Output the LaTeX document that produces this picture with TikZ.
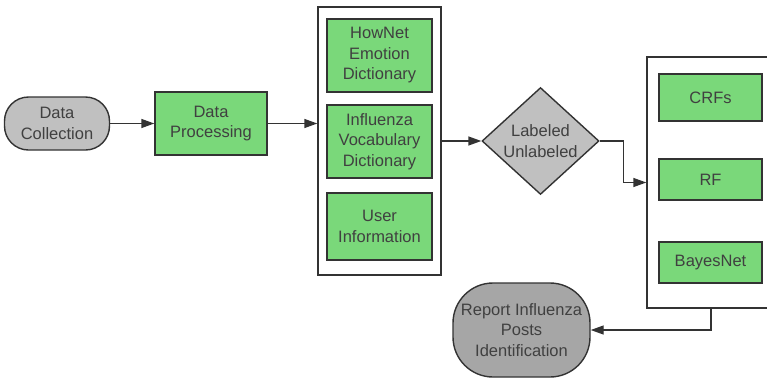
\documentclass[tikz,border=0pt]{standalone}
\usepackage{fontspec}
\setmainfont{Liberation Sans}
\usetikzlibrary{shapes.geometric}
\usetikzlibrary{arrows.meta}
\definecolor{boxgreen}{RGB}{122,216,122}
\definecolor{lightgray}{RGB}{192,192,192}
\definecolor{darkgray}{RGB}{166,166,166}
\definecolor{edgegray}{RGB}{51,51,51}
\definecolor{textgray}{RGB}{64,64,64}

\begin{document}
\begin{tikzpicture}
[x=1pt,y=-1pt,%
  every node/.style={draw=edgegray,line width=1.4pt,text=textgray,align=center,inner sep=0pt,%
    font=\fontsize{16.5}{20.5}\selectfont},%
  greenbox/.style={rectangle,fill=boxgreen,minimum width=103pt},%
  holder/.style={rectangle,fill=white},%
  pill/.style={rectangle,rounded corners=24pt},%
  link/.style={draw=edgegray,line width=1.4pt,-{Triangle[length=13pt,width=9pt]}}]
\useasboundingbox (0,0) rectangle (767,378);
\node[pill,fill=lightgray,minimum width=105pt,minimum height=53pt] (coll) at (57,123.5) {Data\\Collection};
\node[greenbox,minimum width=112pt,minimum height=63pt] (proc) at (211,123.5) {Data\\Processing};
\node[holder,minimum width=123pt,minimum height=268pt] (box1) at (379.5,141) {};
\node[greenbox,minimum width=105pt,minimum height=73pt] (hownet) at (379.5,55.5) {HowNet\\Emotion\\Dictionary};
\node[greenbox,minimum width=105pt,minimum height=73pt] (vocab) at (379.5,141.5) {Influenza\\Vocabulary\\Dictionary};
\node[greenbox,minimum width=105pt,minimum height=67pt] (user) at (379.5,226.5) {User\\Information};
\node[diamond,fill=lightgray,minimum width=117pt,minimum height=98pt] (lab) at (540.5,141) {Labeled\\Unlabeled};
\node[holder,minimum width=128pt,minimum height=251pt] (box2) at (711,182.5) {};
\node[greenbox,minimum height=47pt] (crf) at (710.5,97.5) {CRFs};
\node[greenbox,minimum height=41pt] (rf) at (710.5,179.5) {RF};
\node[greenbox,minimum height=41pt] (bayes) at (710.5,262.5) {BayesNet};
\node[pill,rounded corners=40pt,fill=darkgray,minimum width=137pt,minimum height=94pt] (rep) at (521.5,330) {Report Influenza\\Posts\\Identification};
\draw[link] (coll.east) -- (proc.west);
\draw[link] (proc.east) -- (proc.east -| box1.west);
\draw[link] (box1.east) -- (lab.west);
\draw[link] (lab.east) -- ++(24,0) |- (box2.west);
\draw[link] (box2.south) |- (rep.east);
\end{tikzpicture}
\end{document}
